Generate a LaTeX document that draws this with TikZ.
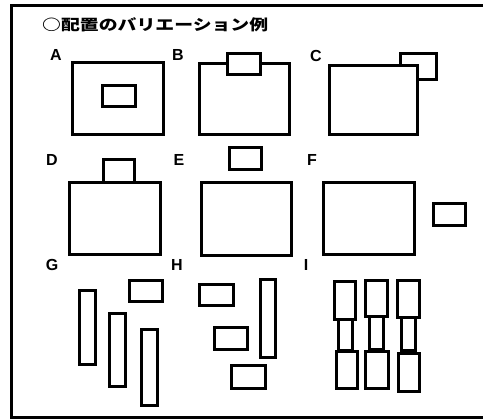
\documentclass[tikz,border=0pt]{standalone}
\usepackage{fontspec}
\setmainfont{Liberation Sans}
\newfontfamily\jpfont{Noto Sans CJK JP}
\usetikzlibrary{positioning}
\tikzset{
  shp/.style={draw=black, line width=3pt, fill=white},
  lbl/.style={font=\fontsize{16pt}{18pt}\selectfont\bfseries, inner sep=0pt},
  frm/.style={draw=black, line width=2.5pt}
}
\begin{document}
\begin{tikzpicture}[x=1pt,y=-1pt]
\useasboundingbox (0,0) rectangle (483,419);
\fill[white] (0,0) rectangle (483,419);
% frame
\draw[frm] (484,5.5) -- (11.5,5.5) -- (11.5,417.5) -- (484,417.5);
% title
\node[anchor=west, inner sep=0pt] (title) at (42,25)
  {\resizebox{226pt}{\height}{\jpfont\fontsize{15pt}{17pt}\selectfont\bfseries ○配置のバリエーション例}};
% labels
\node[lbl] (lA) at (56,55) {A};
\node[lbl] (lB) at (178,55) {B};
\node[lbl] (lC) at (316,56) {C};
\node[lbl] (lD) at (52,160) {D};
\node[lbl] (lE) at (179,160) {E};
\node[lbl] (lF) at (312,160) {F};
\node[lbl] (lG) at (52,265) {G};
\node[lbl] (lH) at (177,265) {H};
\node[lbl] (lI) at (306,265) {I};
% A
\draw[shp] (72.5,62.5) rectangle (163.5,134.5);
\draw[shp] (102.5,85.5) rectangle (135.5,106.5);
% B
\draw[shp] (199.5,63.5) rectangle (289.5,134.5);
\draw[shp] (227.5,53.5) rectangle (260.5,74.5);
% C
\draw[shp] (400.5,53.5) rectangle (436.5,79.5);
\draw[shp] (329.5,65.5) rectangle (417.5,134.5);
% D
\draw[shp] (69.5,182.5) rectangle (160.5,254.5);
\draw[shp] (103.5,159.5) rectangle (134.5,182.5);
% E
\draw[shp] (201.5,182.5) rectangle (291.5,255.5);
\draw[shp] (229.5,147.5) rectangle (261.5,169.5);
% F
\draw[shp] (323.5,182.5) rectangle (414.5,254.5);
\draw[shp] (433.5,203.5) rectangle (465.5,225.5);
% G
\draw[shp] (79.5,290.5) rectangle (95.5,364.5);
\draw[shp] (109.5,313.5) rectangle (125.5,386.5);
\draw[shp] (141.5,329.5) rectangle (157.5,405.5);
\draw[shp] (129.5,280.5) rectangle (162.5,301.5);
% H
\draw[shp] (199.5,284.5) rectangle (233.5,305.5);
\draw[shp] (214.5,327.5) rectangle (247.5,349.5);
\draw[shp] (231.5,365.5) rectangle (265.5,388.5);
\draw[shp] (260.5,279.5) rectangle (275.5,357.5);
% I
\draw[shp] (338.5,319.5) rectangle (352.5,350.5);
\draw[shp] (334.5,281.5) rectangle (355.5,319.5);
\draw[shp] (336.5,351.5) rectangle (357.5,388.5);
\draw[shp] (369.5,317) rectangle (383.5,349.5);
\draw[shp] (365.5,280.5) rectangle (387.5,316.5);
\draw[shp] (365.5,351.5) rectangle (388.5,388.5);
\draw[shp] (401.5,318) rectangle (415.5,351);
\draw[shp] (397.5,280.5) rectangle (419.5,317.5);
\draw[shp] (398.5,353.5) rectangle (419.5,391.5);
\end{tikzpicture}
\end{document}
